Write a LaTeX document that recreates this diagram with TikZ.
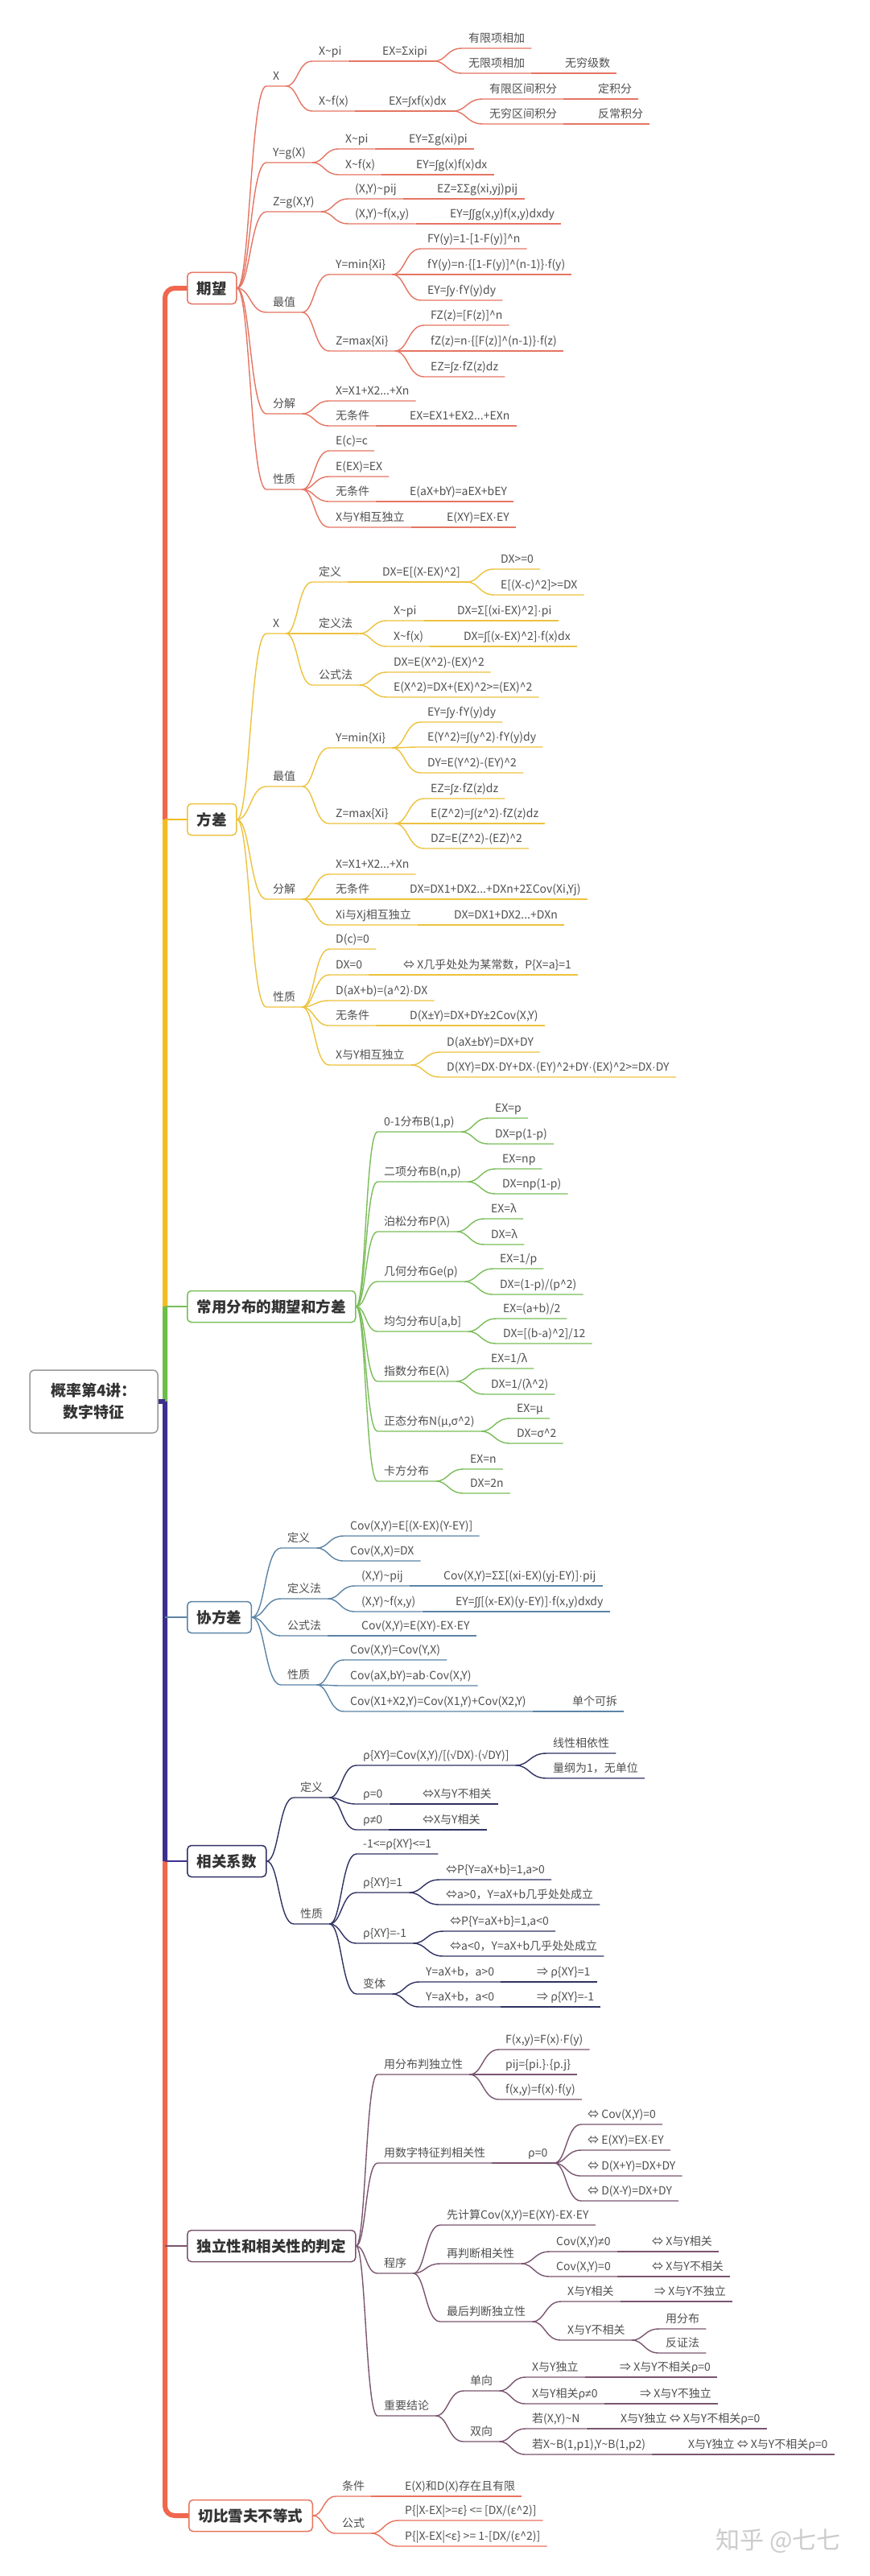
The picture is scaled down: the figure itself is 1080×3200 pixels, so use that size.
\documentclass[tikz,border=0pt]{standalone}
\usepackage{fontspec}
\setmainfont{Noto Sans CJK SC}
\newfontfamily\latf{Liberation Sans}
\usetikzlibrary{positioning}
\usetikzlibrary{calc}
\definecolor{txt}{HTML}{505050}
\definecolor{dark}{HTML}{333333}
\definecolor{rootc}{HTML}{9A9A9A}
\definecolor{qwc}{HTML}{E57563}
\definecolor{fcc}{HTML}{EDC23E}
\definecolor{cyc}{HTML}{7ABD5A}
\definecolor{xfc}{HTML}{5B84A5}
\definecolor{xgc}{HTML}{2F3262}
\definecolor{dlc}{HTML}{7A5570}
\definecolor{qbc}{HTML}{E8735D}
\definecolor{qwT}{HTML}{F0664E}
\definecolor{fcT}{HTML}{F4BC1F}
\definecolor{cyT}{HTML}{6CBE46}
\definecolor{xfT}{HTML}{4F7FA8}
\definecolor{xgT}{HTML}{3C2F8E}
\definecolor{dlT}{HTML}{7A4A6E}
\definecolor{qbT}{HTML}{F0664E}
\newcommand\tld{\textasciitilde}
\newcommand\crt{\textasciicircum}
\newcommand\dotc{{\latf ·}}
\newcommand\intc{{\latf ∫}}
\newcommand\pmc{{\latf ±}}
\newcommand\sqc{{\latf √}}
\newcommand\neqc{{\latf ≠}}
\tikzset{
    x=1pt, y=-1pt,
    leaf/.style={
        anchor=south west,
        inner xsep=8pt, inner ysep=4pt,
        text height=11pt, text depth=3pt,
        font=\fontsize{14}{16}\selectfont,
        text=txt
    },
    topic/.style={
        draw=#1, fill=white,
        line width=1.5pt, rounded corners=5pt,
        anchor=west, inner xsep=12pt,
        minimum height=39pt,
        font=\bfseries\fontsize{18.5}{22}\selectfont,
        text=dark
    },
    trunk/.style={draw=#1, line width=6pt, rounded corners=12pt},
    stub/.style={draw=#1, line width=2pt},
    twig/.style={draw=#1, line width=1.4pt},
    fork/.style={to path={
        let \p1=(\tikztostart), \p2=(\tikztotarget),
            \p3=($(\p1)!0.45!(\p2)$) in
        .. controls (\x3,\y1) and (\x3,\y2) .. (\tikztotarget)
    }}
}
\begin{document}
\begin{tikzpicture}
\useasboundingbox (0,0) rectangle (1080,3200);
\fill[white] (0,0) rectangle (1080,3200);

\node[draw=rootc, fill=white, line width=1.5pt, rounded corners=6pt,
      minimum width=159pt, minimum height=78pt, align=center,
      font=\bfseries\fontsize{19}{27}\selectfont, text=dark] (root) at (116.5,1741)
      {概率第4讲：\\数字特征};
\node[topic=qwc] (qw) at (232,358) {期望};
\node[topic=fcc] (fc) at (232,1018) {方差};
\node[topic=cyc] (cy) at (232,1623) {常用分布的期望和方差};
\node[topic=xfc] (xf) at (232,2009) {协方差};
\node[topic=xgc] (xg) at (232,2312) {相关系数};
\node[topic=dlc] (dl) at (232,2790) {独立性和相关性的判定};
\node[topic=qbc] (qb) at (234,3125) {切比雪夫不等式};

\coordinate (hub) at (205,1741);
\draw[trunk=qwT] (hub) |- (qw.west);
\foreach \t/\c in {fc/fcT, cy/cyT, xf/xfT, dl/dlT}
    \draw[trunk=\c] (hub) -- (hub |- \t.west);
\draw[trunk=qbT] (hub) |- (qb.west);
\draw[trunk=xgT] (hub) -- (hub |- xg.west);
\foreach \t/\c in {fc/fcT, cy/cyc, xf/xfc, xg/xgT, dl/dlc}
    \draw[stub=\c] (hub |- \t.west) -- (\t.west);
\draw[draw=xgT, line width=6pt] (root.east) -- (hub);

\node[leaf] (qwX) at (331,107) {X};
\node[leaf] (qwXp) at (388,76) {X\tld pi};
\node[leaf] (qwXpE) at (467,76) {EX=Σxipi};
\node[leaf] (qwA1) at (574,60) {有限项相加};
\node[leaf] (qwA2) at (574,91) {无限项相加};
\node[leaf] (qwA2b) at (694,91) {无穷级数};
\node[leaf] (qwXf) at (388,138) {X\tld f(x)};
\node[leaf] (qwXfE) at (475,138) {EX=\intc xf(x)dx};
\node[leaf] (qwB1) at (600,123) {有限区间积分};
\node[leaf] (qwB1b) at (735,123) {定积分};
\node[leaf] (qwB2) at (600,154) {无穷区间积分};
\node[leaf] (qwB2b) at (735,154) {反常积分};
\node[leaf] (qwY) at (331,202) {Y=g(X)};
\node[leaf] (qwYp) at (421,185) {X\tld pi};
\node[leaf] (qwYpE) at (500,185) {EY=Σg(xi)pi};
\node[leaf] (qwYf) at (421,217) {X\tld f(x)};
\node[leaf] (qwYfE) at (509,217) {EY=\intc g(x)f(x)dx};
\node[leaf] (qwZ) at (331,263) {Z=g(X,Y)};
\node[leaf] (qwZp) at (433,247) {(X,Y)\tld pij};
\node[leaf] (qwZpE) at (535,247) {EZ=ΣΣg(xi,yj)pij};
\node[leaf] (qwZf) at (433,278) {(X,Y)\tld f(x,y)};
\node[leaf] (qwZfE) at (551,278) {EY=\intc\intc g(x,y)f(x,y)dxdy};
\node[leaf] (qwM) at (331,388) {最值};
\node[leaf] (qwMin) at (409,341) {Y=min\{Xi\}};
\node[leaf] (qwMin1) at (523,309) {FY(y)=1-[1-F(y)]\crt n};
\node[leaf] (qwMin2) at (523,341) {fY(y)=n\dotc\{[1-F(y)]\crt(n-1)\}\dotc f(y)};
\node[leaf] (qwMin3) at (523,373) {EY=\intc y\dotc fY(y)dy};
\node[leaf] (qwMax) at (409,436) {Z=max\{Xi\}};
\node[leaf] (qwMax1) at (527,404) {FZ(z)=[F(z)]\crt n};
\node[leaf] (qwMax2) at (527,436) {fZ(z)=n\dotc\{[F(z)]\crt(n-1)\}\dotc f(z)};
\node[leaf] (qwMax3) at (527,468) {EZ=\intc z\dotc fZ(z)dz};
\node[leaf] (qwD) at (331,514) {分解};
\node[leaf] (qwD1) at (409,498) {X=X1+X2...+Xn};
\node[leaf] (qwD2) at (409,529) {无条件};
\node[leaf] (qwD2b) at (501,529) {EX=EX1+EX2...+EXn};
\node[leaf] (qwP) at (331,608) {性质};
\node[leaf] (qwP1) at (409,560) {E(c)=c};
\node[leaf] (qwP2) at (409,592) {E(EX)=EX};
\node[leaf] (qwP3) at (409,623) {无条件};
\node[leaf] (qwP3b) at (501,623) {E(aX+bY)=aEX+bEY};
\node[leaf] (qwP4) at (409,655) {X与Y相互独立};
\node[leaf] (qwP4b) at (547,655) {E(XY)=EX\dotc EY};

\foreach \a/\b in {qw.east/qwX, qwX.south east/qwXp, qwXp.south east/qwXpE,
        qwXpE.south east/qwA1, qwXpE.south east/qwA2, qwA2.south east/qwA2b,
        qwX.south east/qwXf, qwXf.south east/qwXfE, qwXfE.south east/qwB1,
        qwB1.south east/qwB1b, qwXfE.south east/qwB2, qwB2.south east/qwB2b,
        qw.east/qwY, qwY.south east/qwYp, qwYp.south east/qwYpE,
        qwY.south east/qwYf, qwYf.south east/qwYfE,
        qw.east/qwZ, qwZ.south east/qwZp, qwZp.south east/qwZpE,
        qwZ.south east/qwZf, qwZf.south east/qwZfE,
        qw.east/qwM, qwM.south east/qwMin, qwMin.south east/qwMin1,
        qwMin.south east/qwMin2, qwMin.south east/qwMin3, qwM.south east/qwMax,
        qwMax.south east/qwMax1, qwMax.south east/qwMax2, qwMax.south east/qwMax3,
        qw.east/qwD, qwD.south east/qwD1, qwD.south east/qwD2, qwD2.south east/qwD2b,
        qw.east/qwP, qwP.south east/qwP1, qwP.south east/qwP2, qwP.south east/qwP3,
        qwP3.south east/qwP3b, qwP.south east/qwP4, qwP4.south east/qwP4b}
    \draw[twig=qwc] (\a) to[fork] (\b.south west) -- (\b.south east);

\node[leaf] (fcX) at (331,787) {X};
\node[leaf] (fcDef) at (388,723) {定义};
\node[leaf] (fcDefE) at (467,723) {DX=E[(X-EX)\crt 2]};
\node[leaf] (fcDef1) at (614,707) {DX>=0};
\node[leaf] (fcDef2) at (614,739) {E[(X-c)\crt 2]>=DX};
\node[leaf] (fcDM) at (388,787) {定义法};
\node[leaf] (fcDMp) at (481,771) {X\tld pi};
\node[leaf] (fcDMpE) at (560,771) {DX=Σ[(xi-EX)\crt 2]\dotc pi};
\node[leaf] (fcDMf) at (481,803) {X\tld f(x)};
\node[leaf] (fcDMfE) at (568,803) {DX=\intc[(x-EX)\crt 2]\dotc f(x)dx};
\node[leaf] (fcFM) at (388,851) {公式法};
\node[leaf] (fcFM1) at (481,835) {DX=E(X\crt 2)-(EX)\crt 2};
\node[leaf] (fcFM2) at (481,866) {E(X\crt 2)=DX+(EX)\crt 2>=(EX)\crt 2};
\node[leaf] (fcM) at (331,977) {最值};
\node[leaf] (fcMin) at (409,929) {Y=min\{Xi\}};
\node[leaf] (fcMin1) at (523,897) {EY=\intc y\dotc fY(y)dy};
\node[leaf] (fcMin2) at (523,928) {E(Y\crt 2)=\intc(y\crt 2)\dotc fY(y)dy};
\node[leaf] (fcMin3) at (523,960) {DY=E(Y\crt 2)-(EY)\crt 2};
\node[leaf] (fcMax) at (409,1023) {Z=max\{Xi\}};
\node[leaf] (fcMax1) at (527,992) {EZ=\intc z\dotc fZ(z)dz};
\node[leaf] (fcMax2) at (527,1023) {E(Z\crt 2)=\intc(z\crt 2)\dotc fZ(z)dz};
\node[leaf] (fcMax3) at (527,1054) {DZ=E(Z\crt 2)-(EZ)\crt 2};
\node[leaf] (fcD) at (331,1117) {分解};
\node[leaf] (fcD1) at (409,1086) {X=X1+X2...+Xn};
\node[leaf] (fcD2) at (409,1117) {无条件};
\node[leaf] (fcD2b) at (501,1117) {DX=DX1+DX2...+DXn+2ΣCov(Xi,Yj)};
\node[leaf] (fcD3) at (409,1149) {Xi与Xj相互独立};
\node[leaf] (fcD3b) at (556,1149) {DX=DX1+DX2...+DXn};
\node[leaf] (fcP) at (331,1251) {性质};
\node[leaf] (fcP1) at (409,1179) {D(c)=0};
\node[leaf] (fcP2) at (409,1211) {DX=0};
\node[leaf] (fcP2b) at (493,1211) {⇔ X几乎处处为某常数，P\{X=a\}=1};
\node[leaf] (fcP3) at (409,1243) {D(aX+b)=(a\crt 2)\dotc DX};
\node[leaf] (fcP4) at (409,1274) {无条件};
\node[leaf] (fcP4b) at (501,1274) {D(X\pmc Y)=DX+DY\pmc 2Cov(X,Y)};
\node[leaf] (fcP5) at (409,1323) {X与Y相互独立};
\node[leaf] (fcP51) at (547,1307) {D(aX\pmc bY)=DX+DY};
\node[leaf] (fcP52) at (547,1338) {D(XY)=DX\dotc DY+DX\dotc(EY)\crt 2+DY\dotc(EX)\crt 2>=DX\dotc DY};

\foreach \a/\b in {fc.east/fcX, fcX.south east/fcDef, fcDef.south east/fcDefE,
        fcDefE.south east/fcDef1, fcDefE.south east/fcDef2,
        fcX.south east/fcDM, fcDM.south east/fcDMp, fcDMp.south east/fcDMpE,
        fcDM.south east/fcDMf, fcDMf.south east/fcDMfE,
        fcX.south east/fcFM, fcFM.south east/fcFM1, fcFM.south east/fcFM2,
        fc.east/fcM, fcM.south east/fcMin, fcMin.south east/fcMin1,
        fcMin.south east/fcMin2, fcMin.south east/fcMin3, fcM.south east/fcMax,
        fcMax.south east/fcMax1, fcMax.south east/fcMax2, fcMax.south east/fcMax3,
        fc.east/fcD, fcD.south east/fcD1, fcD.south east/fcD2, fcD2.south east/fcD2b,
        fcD.south east/fcD3, fcD3.south east/fcD3b,
        fc.east/fcP, fcP.south east/fcP1, fcP.south east/fcP2, fcP2.south east/fcP2b,
        fcP.south east/fcP3, fcP.south east/fcP4, fcP4.south east/fcP4b,
        fcP.south east/fcP5, fcP5.south east/fcP51, fcP5.south east/fcP52}
    \draw[twig=fcc] (\a) to[fork] (\b.south west) -- (\b.south east);

\node[leaf] (cy1) at (469,1406) {0-1分布B(1,p)};
\node[leaf] (cy1a) at (607,1389) {EX=p};
\node[leaf] (cy1b) at (607,1421) {DX=p(1-p)};
\node[leaf] (cy2) at (469,1468) {二项分布B(n,p)};
\node[leaf] (cy2a) at (616,1452) {EX=np};
\node[leaf] (cy2b) at (616,1483) {DX=np(1-p)};
\node[leaf] (cy3) at (469,1530) {泊松分布P(λ)};
\node[leaf] (cy3a) at (602,1514) {EX=λ};
\node[leaf] (cy3b) at (602,1546) {DX=λ};
\node[leaf] (cy4) at (469,1592) {几何分布Ge(p)};
\node[leaf] (cy4a) at (613,1576) {EX=1/p};
\node[leaf] (cy4b) at (613,1608) {DX=(1-p)/(p\crt 2)};
\node[leaf] (cy5) at (469,1654) {均匀分布U[a,b]};
\node[leaf] (cy5a) at (617,1638) {EX=(a+b)/2};
\node[leaf] (cy5b) at (617,1669) {DX=[(b-a)\crt 2]/12};
\node[leaf] (cy6) at (469,1716) {指数分布E(λ)};
\node[leaf] (cy6a) at (602,1700) {EX=1/λ};
\node[leaf] (cy6b) at (602,1732) {DX=1/(λ\crt 2)};
\node[leaf] (cy7) at (469,1778) {正态分布N(μ,σ\crt 2)};
\node[leaf] (cy7a) at (634,1762) {EX=μ};
\node[leaf] (cy7b) at (634,1793) {DX=σ\crt 2};
\node[leaf] (cy8) at (469,1840) {卡方分布};
\node[leaf] (cy8a) at (576,1825) {EX=n};
\node[leaf] (cy8b) at (576,1855) {DX=2n};

\foreach \k in {1,...,8}
    \draw[twig=cyc] (cy.east) to[fork] (cy\k.south west) -- (cy\k.south east)
        (cy\k.south east) to[fork] (cy\k a.south west) -- (cy\k a.south east)
        (cy\k.south east) to[fork] (cy\k b.south west) -- (cy\k b.south east);

\node[leaf] (xfDef) at (349,1923) {定义};
\node[leaf] (xfDef1) at (427,1908) {Cov(X,Y)=E[(X-EX)(Y-EY)]};
\node[leaf] (xfDef2) at (427,1939) {Cov(X,X)=DX};
\node[leaf] (xfDM) at (349,1986) {定义法};
\node[leaf] (xfDMp) at (441,1970) {(X,Y)\tld pij};
\node[leaf] (xfDMpE) at (543,1970) {Cov(X,Y)=ΣΣ[(xi-EX)(yj-EY)]\dotc pij};
\node[leaf] (xfDMf) at (441,2002) {(X,Y)\tld f(x,y)};
\node[leaf] (xfDMfE) at (558,2002) {EY=\intc\intc[(x-EX)(y-EY)]\dotc f(x,y)dxdy};
\node[leaf] (xfFM) at (349,2032) {公式法};
\node[leaf] (xfFME) at (441,2032) {Cov(X,Y)=E(XY)-EX\dotc EY};
\node[leaf] (xfP) at (349,2093) {性质};
\node[leaf] (xfP1) at (427,2062) {Cov(X,Y)=Cov(Y,X)};
\node[leaf] (xfP2) at (427,2094) {Cov(aX,bY)=ab\dotc Cov(X,Y)};
\node[leaf] (xfP3) at (427,2126) {Cov(X1+X2,Y)=Cov(X1,Y)+Cov(X2,Y)};
\node[leaf] (xfP3b) at (703,2126) {单个可拆};

\foreach \a/\b in {xf.east/xfDef, xfDef.south east/xfDef1, xfDef.south east/xfDef2,
        xf.east/xfDM, xfDM.south east/xfDMp, xfDMp.south east/xfDMpE,
        xfDM.south east/xfDMf, xfDMf.south east/xfDMfE,
        xf.east/xfFM, xfFM.south east/xfFME,
        xf.east/xfP, xfP.south east/xfP1, xfP.south east/xfP2, xfP.south east/xfP3,
        xfP3.south east/xfP3b}
    \draw[twig=xfc] (\a) to[fork] (\b.south west) -- (\b.south east);

\node[leaf] (xgDef) at (365,2233) {定义};
\node[leaf] (xgDef1) at (443,2193) {ρ\{XY\}=Cov(X,Y)/[(\sqc DX)\dotc(\sqc DY)]};
\node[leaf] (xgDef1a) at (679,2178) {线性相依性};
\node[leaf] (xgDef1b) at (679,2209) {量纲为1，无单位};
\node[leaf] (xgDef2) at (443,2241) {ρ=0};
\node[leaf] (xgDef2b) at (517,2241) {⇔X与Y不相关};
\node[leaf] (xgDef3) at (443,2273) {ρ\neqc 0};
\node[leaf] (xgDef3b) at (517,2273) {⇔X与Y相关};
\node[leaf] (xgP) at (365,2390) {性质};
\node[leaf] (xgP1) at (443,2303) {-1<=ρ\{XY\}<=1};
\node[leaf] (xgP2) at (443,2351) {ρ\{XY\}=1};
\node[leaf] (xgP2a) at (546,2335) {⇔P\{Y=aX+b\}=1,a>0};
\node[leaf] (xgP2b) at (546,2366) {⇔a>0，Y=aX+b几乎处处成立};
\node[leaf] (xgP3) at (443,2414) {ρ\{XY\}=-1};
\node[leaf] (xgP3a) at (551,2399) {⇔P\{Y=aX+b\}=1,a<0};
\node[leaf] (xgP3b) at (551,2430) {⇔a<0，Y=aX+b几乎处处成立};
\node[leaf] (xgP4) at (443,2477) {变体};
\node[leaf] (xgP4a) at (521,2462) {Y=aX+b，a>0};
\node[leaf] (xgP4ab) at (659,2462) {⇒ ρ\{XY\}=1};
\node[leaf] (xgP4b) at (521,2493) {Y=aX+b，a<0};
\node[leaf] (xgP4bb) at (659,2493) {⇒ ρ\{XY\}=-1};

\foreach \a/\b in {xg.east/xgDef, xgDef.south east/xgDef1, xgDef1.south east/xgDef1a,
        xgDef1.south east/xgDef1b, xgDef.south east/xgDef2, xgDef2.south east/xgDef2b,
        xgDef.south east/xgDef3, xgDef3.south east/xgDef3b,
        xg.east/xgP, xgP.south east/xgP1, xgP.south east/xgP2, xgP2.south east/xgP2a,
        xgP2.south east/xgP2b, xgP.south east/xgP3, xgP3.south east/xgP3a,
        xgP3.south east/xgP3b, xgP.south east/xgP4, xgP4.south east/xgP4a,
        xgP4a.south east/xgP4ab, xgP4.south east/xgP4b, xgP4b.south east/xgP4bb}
    \draw[twig=xgc] (\a) to[fork] (\b.south west) -- (\b.south east);

\node[leaf] (dlA) at (469,2577) {用分布判独立性};
\node[leaf] (dlA1) at (620,2546) {F(x,y)=F(x)\dotc F(y)};
\node[leaf] (dlA2) at (620,2577) {pij=\{pi.\}\dotc\{p.j\}};
\node[leaf] (dlA3) at (620,2608) {f(x,y)=f(x)\dotc f(y)};
\node[leaf] (dlB) at (469,2687) {用数字特征判相关性};
\node[leaf] (dlBr) at (648,2687) {ρ=0};
\node[leaf] (dlB1) at (722,2639) {⇔ Cov(X,Y)=0};
\node[leaf] (dlB2) at (722,2671) {⇔ E(XY)=EX\dotc EY};
\node[leaf] (dlB3) at (722,2703) {⇔ D(X+Y)=DX+DY};
\node[leaf] (dlB4) at (722,2734) {⇔ D(X-Y)=DX+DY};
\node[leaf] (dlC) at (469,2824) {程序};
\node[leaf] (dlC1) at (547,2764) {先计算Cov(X,Y)=E(XY)-EX\dotc EY};
\node[leaf] (dlC2) at (547,2812) {再判断相关性};
\node[leaf] (dlC2a) at (683,2797) {Cov(X,Y)\neqc 0};
\node[leaf] (dlC2ab) at (802,2797) {⇔ X与Y相关};
\node[leaf] (dlC2b) at (683,2828) {Cov(X,Y)=0};
\node[leaf] (dlC2bb) at (802,2828) {⇔ X与Y不相关};
\node[leaf] (dlC3) at (547,2884) {最后判断独立性};
\node[leaf] (dlC3a) at (697,2859) {X与Y相关};
\node[leaf] (dlC3ab) at (805,2859) {⇒ X与Y不独立};
\node[leaf] (dlC3b) at (697,2907) {X与Y不相关};
\node[leaf] (dlC3b1) at (819,2893) {用分布};
\node[leaf] (dlC3b2) at (819,2923) {反证法};
\node[leaf] (dlD) at (469,3001) {重要结论};
\node[leaf] (dlD1) at (576,2970) {单向};
\node[leaf] (dlD1a) at (653,2953) {X与Y独立};
\node[leaf] (dlD1ab) at (762,2953) {⇒ X与Y不相关ρ=0};
\node[leaf] (dlD1b) at (653,2986) {X与Y相关ρ\neqc 0};
\node[leaf] (dlD1bb) at (787,2986) {⇒ X与Y不独立};
\node[leaf] (dlD2) at (576,3033) {双向};
\node[leaf] (dlD2a) at (653,3017) {若(X,Y)\tld N};
\node[leaf] (dlD2ab) at (763,3017) {X与Y独立 ⇔ X与Y不相关ρ=0};
\node[leaf] (dlD2b) at (653,3049) {若X\tld B(1,p1),Y\tld B(1,p2)};
\node[leaf] (dlD2bb) at (847,3049) {X与Y独立 ⇔ X与Y不相关ρ=0};

\foreach \a/\b in {dl.east/dlA, dlA.south east/dlA1, dlA.south east/dlA2, dlA.south east/dlA3,
        dl.east/dlB, dlB.south east/dlBr, dlBr.south east/dlB1, dlBr.south east/dlB2,
        dlBr.south east/dlB3, dlBr.south east/dlB4,
        dl.east/dlC, dlC.south east/dlC1, dlC.south east/dlC2, dlC2.south east/dlC2a,
        dlC2a.south east/dlC2ab, dlC2.south east/dlC2b, dlC2b.south east/dlC2bb,
        dlC.south east/dlC3, dlC3.south east/dlC3a, dlC3a.south east/dlC3ab,
        dlC3.south east/dlC3b, dlC3b.south east/dlC3b1, dlC3b.south east/dlC3b2,
        dl.east/dlD, dlD.south east/dlD1, dlD1.south east/dlD1a, dlD1a.south east/dlD1ab,
        dlD1.south east/dlD1b, dlD1b.south east/dlD1bb,
        dlD.south east/dlD2, dlD2.south east/dlD2a, dlD2a.south east/dlD2ab,
        dlD2.south east/dlD2b, dlD2b.south east/dlD2bb}
    \draw[twig=dlc] (\a) to[fork] (\b.south west) -- (\b.south east);

\node[leaf] (qbA) at (417,3101) {条件};
\node[leaf] (qbAb) at (495,3101) {E(X)和D(X)存在且有限};
\node[leaf] (qbB) at (417,3147) {公式};
\node[leaf] (qbB1) at (495,3131) {P\{|X-EX|>=ε\} <= [DX/(ε\crt 2)]};
\node[leaf] (qbB2) at (495,3163) {P\{|X-EX|<ε\} >= 1-[DX/(ε\crt 2)]};

\foreach \a/\b in {qb.east/qbA, qbA.south east/qbAb, qb.east/qbB,
        qbB.south east/qbB1, qbB.south east/qbB2}
    \draw[twig=qbc] (\a) to[fork] (\b.south west) -- (\b.south east);

\node[text=gray!40, font=\fontsize{30}{32}\selectfont] (wm) at (967,3156) {知乎 @七七};
\end{tikzpicture}
\end{document}
